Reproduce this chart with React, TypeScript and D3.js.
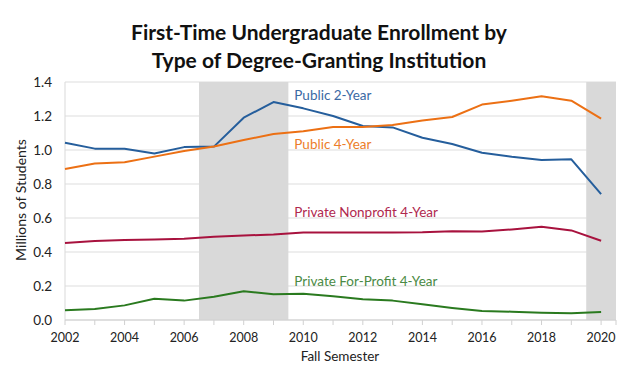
import React from "react";
import * as d3 from "d3";

const years = [2002, 2003, 2004, 2005, 2006, 2007, 2008, 2009, 2010, 2011, 2012, 2013, 2014, 2015, 2016, 2017, 2018, 2019, 2020];
const public2 = [1.043, 1.008, 1.008, 0.98, 1.017, 1.02, 1.19, 1.282, 1.245, 1.2, 1.141, 1.133, 1.072, 1.035, 0.984, 0.96, 0.941, 0.945, 0.741];
const public4 = [0.888, 0.92, 0.928, 0.961, 0.994, 1.02, 1.059, 1.094, 1.11, 1.135, 1.135, 1.147, 1.173, 1.194, 1.267, 1.29, 1.316, 1.29, 1.184];
const privNonprofit = [0.453, 0.465, 0.47, 0.474, 0.478, 0.49, 0.497, 0.503, 0.515, 0.515, 0.515, 0.515, 0.516, 0.522, 0.52, 0.533, 0.549, 0.527, 0.466];
const privForProfit = [0.057, 0.065, 0.086, 0.125, 0.114, 0.137, 0.169, 0.151, 0.155, 0.139, 0.122, 0.114, 0.092, 0.071, 0.053, 0.049, 0.043, 0.039, 0.047];
const recessions = [[2006.5, 2009.5], [2019.5, 2020.5]];
const yTicks = [0, 0.2, 0.4, 0.6, 0.8, 1.0, 1.2, 1.4];
const xTickLabels = [2002, 2004, 2006, 2008, 2010, 2012, 2014, 2016, 2018, 2020];

const seriesList = [
  { name: "Public 2-Year", values: public2, color: "#255e9c", labelColor: "#3a69a4", labelValue: 1.295 },
  { name: "Public 4-Year", values: public4, color: "#ec7014", labelColor: "#ec7d2a", labelValue: 1.005 },
  { name: "Private Nonprofit 4-Year", values: privNonprofit, color: "#a8123e", labelColor: "#b0284e", labelValue: 0.605 },
  { name: "Private For-Profit 4-Year", values: privForProfit, color: "#2a7a1f", labelColor: "#4a8a44", labelValue: 0.2 },
];

const FONT = "Lato, 'Open Sans', sans-serif";

export default function App() {
  const W = 640, H = 369;
  const x = d3.scaleLinear().domain([2002, 2020.5]).range([65, 616]);
  const y = d3.scaleLinear().domain([0, 1.4]).range([320, 82]);
  const line = d3.line<number>().x((_, i) => x(years[i])).y((d) => y(d));

  return (
    <svg width={W} height={H} style={{ position: "absolute", left: 0, top: 0, background: "#fff" }} fontFamily={FONT}>
      <rect x={0} y={0} width={W} height={H} fill="#fff" />
      <text x={319} y={40} textAnchor="middle" fontSize={21} fontWeight="bold" fill="#111">First-Time Undergraduate Enrollment by</text>
      <text x={319} y={68} textAnchor="middle" fontSize={21} fontWeight="bold" fill="#111">Type of Degree-Granting Institution</text>

      {yTicks.map((t) => (
        <line key={"g" + t} x1={65} x2={616} y1={y(t)} y2={y(t)} stroke="#dedede" strokeWidth={1.2} />
      ))}
      {recessions.map(([a, b], i) => (
        <rect key={"r" + i} x={x(a)} y={y(1.4)} width={x(b) - x(a)} height={y(0) - y(1.4)} fill="#d9d9d9" />
      ))}
      <line x1={65} x2={65} y1={y(1.4)} y2={y(0)} stroke="#d9d9d9" strokeWidth={1} />
      <line x1={65} x2={616} y1={y(0)} y2={y(0)} stroke="#d0d0d0" strokeWidth={1} />
      {years.map((yr) => (
        <line key={"t" + yr} x1={x(yr)} x2={x(yr)} y1={y(0)} y2={y(0) + 5} stroke="#d0d0d0" strokeWidth={1} />
      ))}
      <line x1={x(2020.5)} x2={x(2020.5)} y1={y(0)} y2={y(0) + 5} stroke="#d0d0d0" strokeWidth={1} />

      {yTicks.map((t) => (
        <text key={"yl" + t} x={52} y={y(t) + 5} textAnchor="end" fontSize={13.5} fill="#222">{t.toFixed(1)}</text>
      ))}
      {xTickLabels.map((t) => (
        <text key={"xl" + t} x={x(t)} y={342} textAnchor="middle" fontSize={12.5} fill="#222">{t}</text>
      ))}
      <text x={340} y={361} textAnchor="middle" fontSize={13.5} fill="#222">Fall Semester</text>
      <text transform={`translate(26,200) rotate(-90)`} textAnchor="middle" fontSize={14} fill="#222">Millions of Students</text>

      {seriesList.map((s) => (
        <path key={s.name} d={line(s.values) || ""} fill="none" stroke={s.color} strokeWidth={2} strokeLinejoin="round" />
      ))}
      {seriesList.map((s) => (
        <text key={"lab" + s.name} x={x(2009.7)} y={y(s.labelValue)} fontSize={13.5} fill={s.labelColor}>{s.name}</text>
      ))}
    </svg>
  );
}
